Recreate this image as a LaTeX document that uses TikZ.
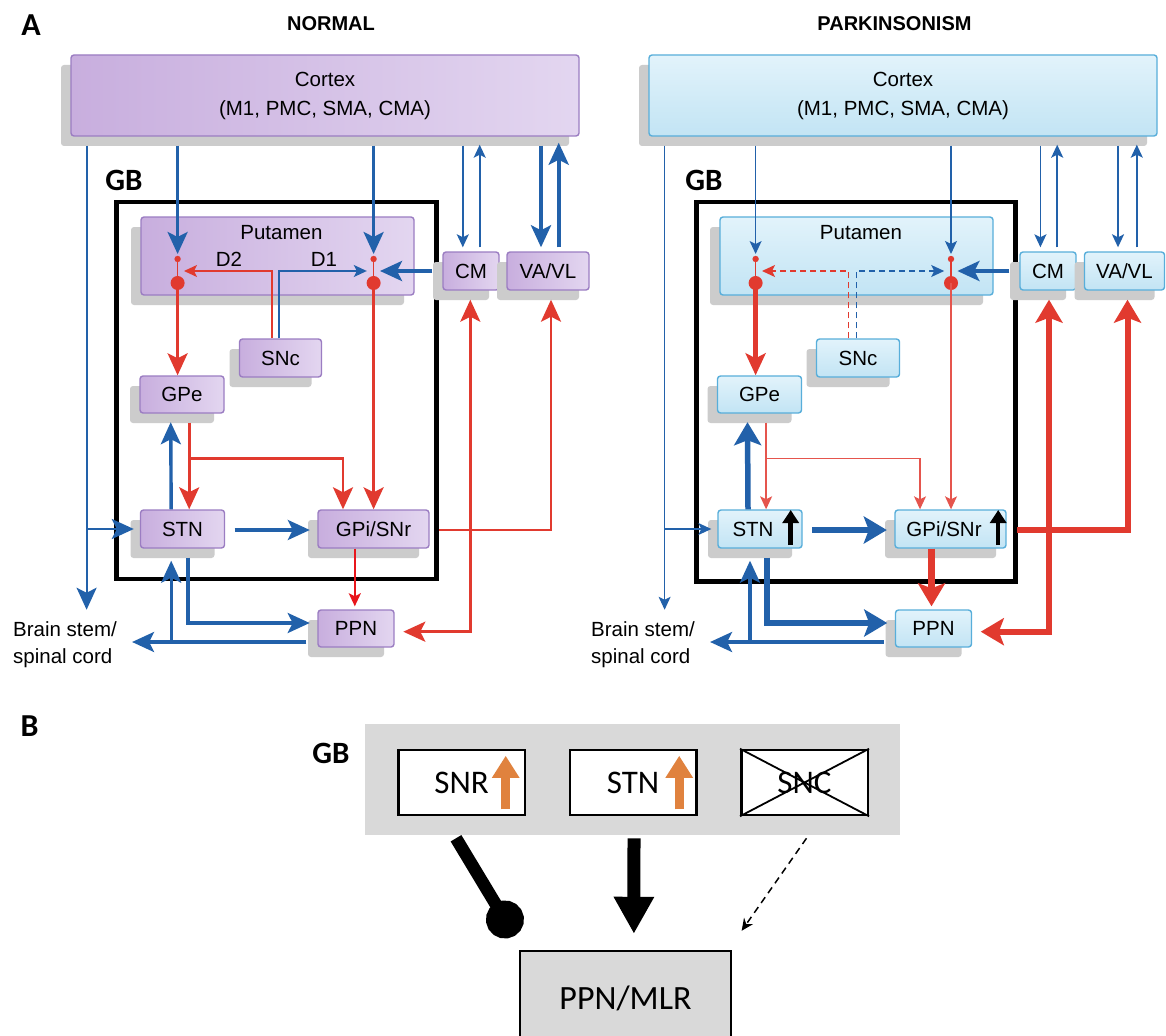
\documentclass[tikz,border=0pt]{standalone}
\usepackage{fontspec}
\setmainfont{Liberation Sans}
\newfontfamily\calibfont{Carlito}
\usetikzlibrary{arrows.meta, shadows, positioning, calc}

\definecolor{vblue}{HTML}{2261AA}
\definecolor{vred}{HTML}{E13A2F}
\definecolor{vredlight}{HTML}{E5554D}
\definecolor{purered}{HTML}{E8161C}
\definecolor{purlight}{HTML}{E3D6F0}
\definecolor{purdark}{HTML}{C8AEDE}
\definecolor{purline}{HTML}{9B7DC2}
\definecolor{cylight}{HTML}{E2F3FB}
\definecolor{cydark}{HTML}{C2E4F4}
\definecolor{cyline}{HTML}{58AEDA}
\definecolor{gbgray}{HTML}{D9D9D9}
\definecolor{uporange}{HTML}{E0823E}

\tikzset{
  nucleo/.style={rounded corners=3pt, line width=1.4pt, align=center, inner sep=2pt,
    font=\fontsize{20.5}{29}\selectfont,
    drop shadow={shadow xshift=-10pt, shadow yshift=-10pt, fill=black!20, opacity=1}},
  normbox/.style={nucleo, draw=purline, left color=purdark, right color=purlight},
  parkbox/.style={nucleo, draw=cyline, top color=cylight, bottom color=cydark},
  txt/.style={font=\fontsize{20.5}{27}\selectfont, inner sep=2pt},
  thinhead/.style={-{Stealth[length=13pt, width=12pt, inset=3pt]}},
  midhead/.style={-{Stealth[length=22pt, width=20pt, inset=5pt]}},
  bighead/.style={-{Stealth[length=23pt, width=27pt, inset=5pt]}},
  gbframe/.style={draw=black, line width=4.5pt},
  gblabel/.style={font=\calibfont\bfseries\fontsize{31}{33}\selectfont},
  panelletter/.style={font=\calibfont\bfseries\fontsize{32}{34}\selectfont},
  paneltitle/.style={font=\bfseries\fontsize{20}{22}\selectfont},
  bcell/.style={draw=black, line width=2.5pt, fill=white, minimum width=126.5pt,
    minimum height=65pt, font=\calibfont\fontsize{33}{35}\selectfont},
  blackup/.style={line width=4.5pt, -{Triangle[length=13pt, width=16pt]}},
  orangeup/.style={uporange, line width=9pt, -{Triangle[length=22pt, width=26pt]}},
}

\begin{document}
\begin{tikzpicture}[x=1pt, y=-1pt]
  \clip (0,0) rectangle (1166,1035);
  \fill[white] (0,0) rectangle (1166,1035);

  % Titulos
  \node[panelletter] (la) at (31,25) {A};
  \node[paneltitle] (tnorm) at (331,24) {NORMAL};
  \node[paneltitle] (tpark) at (894.5,24) {PARKINSONISM};

  % ===== Normal =====
  \draw[gbframe] (116.6,202) rectangle (436.4,579);
  \node[gblabel] (ngb) at (124,180) {GB};

  \node[normbox, minimum width=508pt, minimum height=81pt] (nctx) at (325,95.5) {Cortex\\(M1, PMC, SMA, CMA)};
  \node[normbox, minimum width=273pt, minimum height=78pt] (nput) at (277.5,256) {};
  \node[txt] (nputl) at (281.4,233) {Putamen};
  \node[txt] (nd2l) at (229,259) {D2};
  \node[txt] (nd1l) at (324,259) {D1};
  \node[normbox, minimum width=56pt, minimum height=38pt] (ncm) at (471,271) {CM};
  \node[normbox, minimum width=82pt, minimum height=38pt] (nvavl) at (548,271) {VA/VL};
  \node[normbox, minimum width=82pt, minimum height=38pt] (nsnc) at (280.5,358) {SNc};
  \node[normbox, minimum width=84pt, minimum height=37pt] (ngpe) at (182,394.5) {GPe};
  \node[normbox, minimum width=84pt, minimum height=38pt] (nstn) at (182.5,529) {STN};
  \node[normbox, minimum width=111pt, minimum height=38pt] (ngpi) at (373.5,529) {GPi/SNr};
  \node[normbox, minimum width=76pt, minimum height=37pt] (nppn) at (356,628.5) {PPN};
  \node[txt, anchor=west, align=left] (nbs) at (11,645) {Brain stem/\\spinal cord};

  \coordinate (nctxb) at ($(nctx.south)+(0,9)$);
  \coordinate (nleft) at ($(nctx.south west)+(16.3,9)$);
  \coordinate (nd2) at (177.6,271);
  \coordinate (nd1) at (373.6,271);

  % Corteza hacia estriado, STN y tronco
  \draw[vblue, line width=3.4pt, midhead] (nctxb -| nd2) -- ($(nd2)+(0,-17)$);
  \draw[vblue, line width=3.4pt, midhead] (nctxb -| nd1) -- ($(nd1)+(0,-17)$);
  \draw[vblue, line width=2.2pt, midhead] (nleft) -- ($(nleft |- nbs.north)+(0,-10)$);
  \draw[vblue, line width=2.2pt, midhead] (nleft |- nstn.west) -- ($(nstn.west)+(-6,0)$);

  % Talamo <-> corteza
  \draw[vblue, line width=1.7pt, thinhead] ($(nctxb -| ncm.north)+(-8.2,0)$) -- ($(ncm.north)+(-8.2,-4)$);
  \draw[vblue, line width=1.7pt, thinhead] ($(ncm.north)+(8.7,-4)$) -- ($(nctxb -| ncm.north)+(8.7,-1)$);
  \draw[vblue, line width=4pt, midhead] ($(nctxb -| nvavl.north)+(-7,0)$) -- ($(nvavl.north)+(-7,-4)$);
  \draw[vblue, line width=4pt, midhead] ($(nvavl.north)+(10.7,-4)$) -- ($(nctxb -| nvavl.north)+(10.7,-3)$);
  \draw[vblue, line width=4pt, midhead] ($(ncm.west)+(-10,0)$) -- ($(nd1)+(6.4,0)$);

  % Dopamina desde SNc
  \draw[vred, line width=1.5pt, thinhead] ($(nsnc.north)+(-8.5,0)$) |- ($(nd2)+(6.4,0)$);
  \draw[vblue, line width=1.5pt, thinhead] ($(nsnc.north)+(-1.5,0)$) |- ($(nd1)+(-6.8,0)$);

  % Neuronas del putamen
  \foreach \n in {nd2, nd1} {
    \draw[vred, line width=1.5pt] ($(\n)+(0,-12)$) -- ($(\n)+(0,12)$);
    \fill[vred] ($(\n)+(0,-12)$) circle (3.2);
    \fill[vred] ($(\n)+(0,12)$) circle (7);
  }
  \draw[vred, line width=2.8pt, midhead] ($(nd2)+(0,12)$) -- (nd2 |- ngpe.north);
  \draw[vred, line width=2.8pt, midhead] ($(nd1)+(0,12)$) -- (nd1 |- ngpi.north);

  % GPe
  \coordinate (ngpeo) at ($(ngpe.south)+(7.2,9)$);
  \draw[vred, line width=2.8pt, midhead] (ngpeo) -- (ngpeo |- nstn.north);
  \draw[vred, line width=2.8pt, midhead] ($(ngpeo)+(0,36)$) -| ($(ngpi.north)+(-30.5,0)$);

  % STN
  \draw[vblue, line width=3.4pt, midhead] ($(nstn.north)+(-11.3,0)$) -- ($(ngpe.south)+(-11.3,8.5)$);
  \draw[vblue, line width=3.4pt, midhead] ($(nstn.east)+(9.5,1)$) -- ($(ngpi.west)+(-7.5,1)$);
  \draw[vblue, line width=3.4pt, midhead] ($(nstn.south)+(5.5,9)$) |- ($(nppn.west)+(-7.6,-5.5)$);

  % GPi/SNr hacia talamo y PPN
  \draw[vred, line width=2.8pt, midhead] ($(ngpi.east)+(9.3,1)$) -| ($(nvavl.south)+(3,9)$);
  \coordinate (nsplit) at ($(ncm.south |- ngpi.east)+(-0.7,1)$);
  \draw[vred, line width=2.8pt, midhead] (nsplit) -- ($(ncm.south)+(-0.7,9)$);
  \draw[vred, line width=2.8pt, midhead] (nsplit) |- ($(nppn.east)+(8.6,3.2)$);
  \draw[purered, line width=2.2pt, thinhead] ($(ngpi.south -| nppn.north)+(-1.2,0)$) -- ($(nppn.north)+(-1.2,-3)$);

  % PPN
  \coordinate (nppno) at ($(nppn.west)+(-11,13.5)$);
  \draw[vblue, line width=3.4pt, midhead] (nppno) -- ($(nppno -| nbs.east)+(13,0)$);
  \draw[vblue, line width=3.4pt, midhead] ($(nppno -| nstn.south)+(-11.3,0)$) -- ($(nstn.south)+(-11.3,12)$);

  % ===== Parkinsonismo =====
  \draw[gbframe] (696.6,202) rectangle (1015.5,581.5);
  \node[gblabel] (pgb) at (704,180) {GB};

  \node[parkbox, minimum width=508pt, minimum height=81pt] (pctx) at (903,95.5) {Cortex\\(M1, PMC, SMA, CMA)};
  \node[parkbox, minimum width=273pt, minimum height=78pt] (pput) at (856.5,256) {};
  \node[txt] (pputl) at (861,233) {Putamen};
  \node[parkbox, minimum width=56pt, minimum height=38pt] (pcm) at (1048,271) {CM};
  \node[parkbox, minimum width=80pt, minimum height=38pt] (pvavl) at (1124.5,271) {VA/VL};
  \node[parkbox, minimum width=83pt, minimum height=38pt] (psnc) at (858,358) {SNc};
  \node[parkbox, minimum width=84pt, minimum height=37pt] (pgpe) at (759.5,394.5) {GPe};
  \node[parkbox, minimum width=84pt, minimum height=38pt] (pstn) at (760,529) {STN\hspace{14pt}};
  \node[parkbox, minimum width=111pt, minimum height=38pt] (pgpi) at (950.5,529) {GPi/SNr\hspace{13pt}};
  \node[parkbox, minimum width=76pt, minimum height=37pt] (pppn) at (933.5,628.5) {PPN};
  \node[txt, anchor=west, align=left] (pbs) at (589,645) {Brain stem/\\spinal cord};

  \coordinate (pctxb) at ($(pctx.south)+(0,9)$);
  \coordinate (pleft) at ($(pctx.south west)+(16.3,9)$);
  \coordinate (pd2) at (755.6,271);
  \coordinate (pd1) at (951,271);

  % Flechas de aumento de actividad
  \draw[blackup] ($(pstn.east)+(-12,16)$) -- ($(pstn.east)+(-12,-19)$);
  \draw[blackup] ($(pgpi.east)+(-8.5,16)$) -- ($(pgpi.east)+(-8.5,-19)$);

  % Corteza hacia estriado, STN y tronco
  \draw[vblue, line width=1.3pt, thinhead] (pctxb -| pd2) -- ($(pd2)+(0,-17)$);
  \draw[vblue, line width=1.3pt, thinhead] (pctxb -| pd1) -- ($(pd1)+(0,-17)$);
  \draw[vblue, line width=1.3pt, thinhead] (pleft) -- ($(pleft |- pbs.north)+(0,-10)$);
  \draw[vblue, line width=1.3pt, thinhead] (pleft |- pstn.west) -- ($(pstn.west)+(-6,0)$);

  % Talamo <-> corteza
  \draw[vblue, line width=1.7pt, thinhead] ($(pctxb -| pcm.north)+(-7.6,0)$) -- ($(pcm.north)+(-7.6,-4)$);
  \draw[vblue, line width=1.7pt, thinhead] ($(pcm.north)+(9.2,-4)$) -- ($(pctxb -| pcm.north)+(9.2,-1)$);
  \draw[vblue, line width=1.7pt, thinhead] ($(pctxb -| pvavl.north)+(-6.5,0)$) -- ($(pvavl.north)+(-6.5,-4)$);
  \draw[vblue, line width=1.7pt, thinhead] ($(pvavl.north)+(12.3,-4)$) -- ($(pctxb -| pvavl.north)+(12.3,-1)$);
  \draw[vblue, line width=4pt, midhead] ($(pcm.west)+(-10,0)$) -- ($(pd1)+(6.4,0)$);

  % Dopamina reducida desde SNc
  \draw[vred, line width=1.7pt, dash pattern=on 6pt off 4pt, thinhead] ($(psnc.north)+(-9.5,0)$) |- ($(pd2)+(6.4,0)$);
  \draw[vblue, line width=1.7pt, dash pattern=on 6pt off 4pt, thinhead] ($(psnc.north)+(-1.5,0)$) |- ($(pd1)+(-6.8,0)$);

  % Neuronas del putamen
  \foreach \n in {pd2, pd1} {
    \draw[vred, line width=1.5pt] ($(\n)+(0,-12)$) -- ($(\n)+(0,12)$);
    \fill[vred] ($(\n)+(0,-12)$) circle (3.2);
    \fill[vred] ($(\n)+(0,12)$) circle (7);
  }
  \draw[vred, line width=5.5pt, midhead] ($(pd2)+(0,12)$) -- (pd2 |- pgpe.north);
  \draw[vredlight, line width=1.3pt, thinhead] ($(pd1)+(0,12)$) -- (pd1 |- pgpi.north);

  % GPe
  \coordinate (pgpeo) at ($(pgpe.south)+(6.6,9)$);
  \draw[vredlight, line width=1.3pt, thinhead] (pgpeo) -- (pgpeo |- pstn.north);
  \draw[vredlight, line width=1.3pt, thinhead] ($(pgpeo)+(0,36)$) -| ($(pgpi.north)+(-30.5,0)$);

  % STN
  \draw[vblue, line width=5.5pt, bighead] ($(pstn.north)+(-12,0)$) -- ($(pgpe.south)+(-12,8.5)$);
  \draw[vblue, line width=5.5pt, bighead] ($(pstn.east)+(9.5,1)$) -- ($(pgpi.west)+(-7.5,1)$);
  \draw[vblue, line width=5.5pt, bighead] ($(pstn.south)+(6.8,9)$) |- ($(pppn.west)+(-7.6,-5.5)$);

  % GPi/SNr hacia talamo y PPN
  \draw[vred, line width=6pt, bighead] ($(pgpi.east)+(10.5,1)$) -| ($(pvavl.south)+(3,9)$);
  \coordinate (psplit) at ($(pcm.south |- pgpi.east)+(1,1)$);
  \draw[vred, line width=6pt, bighead] (psplit) -- ($(pcm.south)+(1,9)$);
  \draw[vred, line width=6pt, bighead] (psplit) |- ($(pppn.east)+(8.6,3.2)$);
  \draw[vred, line width=7pt, bighead] ($(pgpi.south -| pppn.north)+(-2,0)$) -- ($(pppn.north)+(-2,-3)$);

  % PPN
  \coordinate (pppno) at ($(pppn.west)+(-11,13.5)$);
  \draw[vblue, line width=3.4pt, midhead] (pppno) -- ($(pppno -| pbs.east)+(13,0)$);
  \draw[vblue, line width=3.4pt, midhead] ($(pppno -| pstn.south)+(-10,0)$) -- ($(pstn.south)+(-10,12)$);

  % ===== Panel B =====
  \node[panelletter] (lb) at (29.5,726.5) {B};
  \node[fill=gbgray, minimum width=534.7pt, minimum height=111pt] (bgb) at (632.25,779.5) {};
  \node[gblabel] (bgbl) at (331,753) {GB};
  \node[bcell] (bsnr) at (461.6,782.5) {SNR\hspace{5pt}};
  \node[bcell] (bstn) at (633,782.5) {STN\hspace{6pt}};
  \node[bcell] (bsnc) at (804.5,782.5) {SNC};
  \draw[line width=1.8pt] (bsnc.north west) -- (bsnc.south east) (bsnc.south west) -- (bsnc.north east);
  \node[draw=black, line width=2.5pt, fill=gbgray, minimum width=211pt, minimum height=94pt,
    font=\calibfont\fontsize{34}{36}\selectfont] (bppn) at (625.5,998) {PPN/MLR};

  % Aumento de actividad
  \draw[orangeup] ($(bsnr.south east)+(-20.4,-7)$) -- ($(bsnr.north east)+(-20.4,7)$);
  \draw[orangeup] ($(bstn.south east)+(-18.3,-7)$) -- ($(bstn.north east)+(-18.3,7)$);

  % Conexiones hacia PPN/MLR
  \draw[line width=12.5pt, -{Circle[length=38pt, width=38pt]}] ($(bsnr.south)+(-5.6,22)$) -- ($(bppn.north west)+(-4,-14)$);
  \draw[line width=13pt, -{Triangle[length=37pt, width=38pt]}] ($(bstn.south)+(1,22)$) -- ($(bppn.north)+(8.4,-16)$);
  \draw[line width=1.5pt, dash pattern=on 7pt off 5pt, -{Stealth[length=12pt, width=11pt]}] ($(bsnc.south)+(2,22)$) -- ($(bppn.north east)+(9.4,-19)$);
\end{tikzpicture}
\end{document}
